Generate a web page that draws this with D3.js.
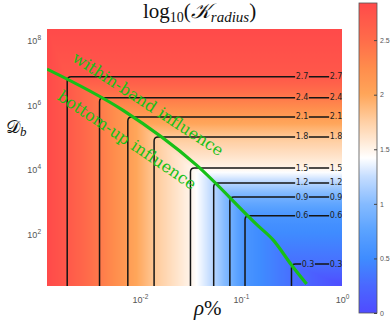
<!DOCTYPE html>
<html>
<head>
<meta charset="utf-8">
<script src="https://cdnjs.cloudflare.com/ajax/libs/d3/7.8.5/d3.min.js"></script>
<style>
  body { margin: 0; background: #fff; }
  svg { display: block; }
</style>
</head>
<body>
<div id="chart"></div>
<script>
// contour levels of log10(K_radius)
const levels = [2.7, 2.4, 2.1, 1.8, 1.5, 1.2, 0.9, 0.6, 0.3];

// log10(rho%) along the x axis and the value reached there (edges + contour crossings)
const rhoLogProfile = [-2.92, -2.72, -2.40, -2.12, -1.86, -1.50, -1.27, -1.11, -0.96, -0.50, 0];
const kAlongRho = [2.84, 2.7, 2.4, 2.1, 1.8, 1.5, 1.2, 0.9, 0.6, 0.3, 0.02];

// log10(D_b) along the y axis and the value reached there
const dbLogProfile = [0.36, 1.04, 2.53, 3.11, 3.55, 4.01, 4.97, 5.59, 6.18, 6.83, 8.31];
const kAlongDb = [0, 0.3, 0.6, 0.9, 1.2, 1.5, 1.8, 2.1, 2.4, 2.7, 2.84];

// green boundary between the two regimes, [log10 rho, log10 Db]
const boundaryLog = [[-2.92, 7.07], [-2.17, 5.80], [-1.44, 4.10], [-0.83, 2.22], [-0.68, 1.78], [-0.50, 1.01], [-0.35, 0.42]];

// tick values
const xTicks = [1e-2, 1e-1, 1];
const yTicks = [1e2, 1e4, 1e6, 1e8];
const cbTicks = [0, 0.5, 1, 1.5, 2, 2.5];

const width = 390, height = 328;
const plot = { left: 47, right: 342, top: 29, bottom: 286 };
const cb = { left: 359, right: 377, top: 3, bottom: 313 };
const green = '#17c017';

// colour map (blue -> white -> orange -> red)
const color = d3.scaleLinear()
  .domain([0, 0.25, 0.5, 0.75, 1.0, 1.25, 1.42, 1.75, 2.0, 2.25, 2.5, 2.84])
  .range(['#4f4bff', '#4a68ff', '#3f8cff', '#5aa2ff', '#85bbff', '#c5ddff', '#ffffff',
          '#ffd0a5', '#ffa65a', '#ff8c4c', '#ff6c4a', '#ff4a4a'])
  .clamp(true);

const svg = d3.select('#chart').append('svg')
  .attr('width', width)
  .attr('height', height)
  .style('font-family', '"DejaVu Sans", sans-serif');

const defs = svg.append('defs');

const x = d3.scaleLog()
  .domain([10 ** rhoLogProfile[0], 10 ** rhoLogProfile[rhoLogProfile.length - 1]])
  .range([plot.left, plot.right]);
const y = d3.scaleLog()
  .domain([10 ** dbLogProfile[0], 10 ** dbLogProfile[dbLogProfile.length - 1]])
  .range([plot.bottom, plot.top]);

const kRho = d3.scaleLinear().domain(rhoLogProfile).range(kAlongRho).clamp(true);
const kDb = d3.scaleLinear().domain(dbLogProfile).range(kAlongDb).clamp(true);
const dbAtK = d3.scaleLinear().domain(kAlongDb).range(dbLogProfile).clamp(true);
const rhoAtK = d3.scaleLinear().domain(kAlongRho.slice().reverse()).range(rhoLogProfile.slice().reverse());
const cScale = d3.scaleLinear().domain([0, kAlongDb[kAlongDb.length - 1]]).range([cb.bottom, cb.top]);

defs.append('clipPath').attr('id', 'plot-clip')
  .append('rect')
  .attr('x', plot.left).attr('y', plot.top)
  .attr('width', plot.right - plot.left).attr('height', plot.bottom - plot.top);

// vertical gradient: value set by D_b where it dominates
const nStops = 120;
const vGrad = defs.append('linearGradient').attr('id', 'db-grad')
  .attr('x1', 0).attr('y1', 0).attr('x2', 0).attr('y2', 1);
d3.range(nStops + 1).forEach((i) => {
  const py = plot.top + (plot.bottom - plot.top) * i / nStops;
  vGrad.append('stop')
    .attr('offset', i / nStops)
    .attr('stop-color', color(kDb(Math.log10(y.invert(py)))));
});

const heat = svg.append('g').attr('clip-path', 'url(#plot-clip)');
heat.append('rect')
  .attr('x', plot.left).attr('y', plot.top)
  .attr('width', plot.right - plot.left).attr('height', plot.bottom - plot.top)
  .attr('fill', 'url(#db-grad)');

// where rho dominates (below the boundary) the value only depends on rho
const cols = d3.range(plot.left, plot.right).map((px) => {
  const k = kRho(Math.log10(x.invert(px + 0.5)));
  return { px, k, yb: y(10 ** dbAtK(k)) };
});
heat.selectAll('.col')
  .data(cols)
  .enter().append('rect')
  .attr('class', 'col')
  .attr('x', (d) => d.px)
  .attr('y', (d) => d.yb)
  .attr('width', 1.05)
  .attr('height', (d) => Math.max(0, plot.bottom - d.yb))
  .attr('fill', (d) => color(d.k))
  .attr('shape-rendering', 'crispEdges');

// contour lines (L-shaped), with gaps under the labels
const contourData = levels.map((lv) => ({
  lv,
  vx: x(10 ** rhoAtK(lv)),
  hy: y(10 ** dbAtK(lv)),
}));

const labelG = svg.append('g').attr('clip-path', 'url(#plot-clip)')
  .style('font-size', '8px').attr('fill', '#222');
const labelPos = (d, j) => (j === 0 ? (d.lv === 0.3 ? 308 : 302) : 336);
const labels = [];
contourData.forEach((d) => {
  [0, 1].forEach((j) => labels.push({ d, j }));
});
const labelText = labelG.selectAll('text')
  .data(labels)
  .enter().append('text')
  .attr('x', (l) => labelPos(l.d, l.j))
  .attr('y', (l) => l.d.hy)
  .attr('text-anchor', 'middle')
  .attr('dominant-baseline', 'central')
  .text((l) => l.d.lv.toFixed(1));

const mask = defs.append('mask').attr('id', 'label-mask').attr('maskUnits', 'userSpaceOnUse')
  .attr('x', 0).attr('y', 0).attr('width', width).attr('height', height);
mask.append('rect').attr('width', width).attr('height', height).attr('fill', '#fff');
labelText.each(function() {
  const b = this.getBBox();
  mask.append('rect')
    .attr('x', b.x - 0.5).attr('y', b.y)
    .attr('width', b.width + 1).attr('height', b.height)
    .attr('fill', '#000');
});

const r = 4;
svg.insert('g', () => labelG.node())
  .attr('clip-path', 'url(#plot-clip)')
  .append('g')
  .attr('mask', 'url(#label-mask)')
  .selectAll('path')
  .data(contourData)
  .enter().append('path')
  .attr('d', (d) => `M${d.vx},${plot.bottom + 2}L${d.vx},${d.hy + r}Q${d.vx},${d.hy} ${d.vx + r},${d.hy}L${plot.right + 2},${d.hy}`)
  .attr('fill', 'none')
  .attr('stroke', '#151515')
  .attr('stroke-width', 1.5);

// green regime boundary
const line = d3.line()
  .x((d) => x(10 ** d[0]))
  .y((d) => y(10 ** d[1]))
  .curve(d3.curveMonotoneX);
svg.append('path')
  .datum(boundaryLog)
  .attr('clip-path', 'url(#plot-clip)')
  .attr('d', line)
  .attr('fill', 'none')
  .attr('stroke', green)
  .attr('stroke-width', 3.2);

const regimeLabels = [
  { text: 'within-band influence', cx: 148, cy: 104, angle: 33 },
  { text: 'bottom-up influence', cx: 127, cy: 140, angle: 34 },
];
svg.selectAll('.regime')
  .data(regimeLabels)
  .enter().append('text')
  .attr('class', 'regime')
  .attr('transform', (d) => `translate(${d.cx},${d.cy}) rotate(${d.angle})`)
  .attr('text-anchor', 'middle')
  .attr('dominant-baseline', 'central')
  .style('font-family', '"DejaVu Serif", serif')
  .style('font-size', '16px')
  .attr('fill', green)
  .text((d) => d.text);

// axes
function powerLabel(sel, fmt) {
  sel.each(function(d) {
    const t = d3.select(this);
    t.text('');
    t.append('tspan').text('10');
    t.append('tspan').attr('dy', -4).style('font-size', '6.5px').text(fmt(d));
  });
}
const expOf = (d) => String(Math.round(Math.log10(d)));

const xAxis = svg.append('g')
  .attr('transform', `translate(0,${plot.bottom})`)
  .call(d3.axisBottom(x).tickValues(xTicks).tickSize(0).tickPadding(11));
xAxis.select('.domain').remove();
xAxis.selectAll('text').style('font-size', '9px').attr('fill', '#555')
  .call(powerLabel, expOf);

const yAxis = svg.append('g')
  .attr('transform', `translate(${plot.left},0)`)
  .call(d3.axisLeft(y).tickValues(yTicks).tickSize(0).tickPadding(6));
yAxis.select('.domain').remove();
yAxis.selectAll('text').style('font-size', '9px').attr('fill', '#555')
  .attr('dy', '0.5em')
  .call(powerLabel, expOf);

// colorbar
const cGrad = defs.append('linearGradient').attr('id', 'cb-grad')
  .attr('x1', 0).attr('y1', 1).attr('x2', 0).attr('y2', 0);
d3.range(nStops + 1).forEach((i) => {
  cGrad.append('stop')
    .attr('offset', i / nStops)
    .attr('stop-color', color(cScale.domain()[1] * i / nStops));
});
svg.append('rect')
  .attr('x', cb.left).attr('y', cb.top)
  .attr('width', cb.right - cb.left).attr('height', cb.bottom - cb.top)
  .attr('fill', 'url(#cb-grad)')
  .attr('stroke', '#555')
  .attr('stroke-width', 0.8);
const cAxis = svg.append('g')
  .attr('transform', `translate(${cb.right},0)`)
  .call(d3.axisRight(cScale).tickValues(cbTicks).tickSizeInner(-3).tickSizeOuter(0)
    .tickPadding(3).tickFormat(d3.format('~g')));
cAxis.select('.domain').remove();
cAxis.selectAll('line').attr('stroke', '#444');
cAxis.selectAll('text').style('font-size', '7px').attr('fill', '#555');

// title and axis labels
const serif = '"Liberation Serif", "DejaVu Serif", serif';
const title = svg.append('text')
  .attr('x', 143).attr('y', 18)
  .style('font-family', serif).style('font-size', '21px').attr('fill', '#111');
title.append('tspan').text('log');
title.append('tspan').attr('dy', 4).style('font-size', '14px').text('10');
title.append('tspan').attr('dy', -4).text('(');
title.append('tspan').style('font-style', 'italic').text('\u{1D4A6}');
title.append('tspan').attr('dy', 4).style('font-size', '15px').style('font-style', 'italic').text('radius');
title.append('tspan').attr('dy', -4).text(')');

const yLabel = svg.append('text')
  .attr('x', 6).attr('y', 133)
  .style('font-family', serif).style('font-size', '18px').attr('fill', '#111');
yLabel.append('tspan').text('\u{1D49F}');
yLabel.append('tspan').attr('dy', 3).style('font-size', '13px').style('font-style', 'italic').text('b');

const xLabel = svg.append('text')
  .attr('x', 194).attr('y', 315)
  .style('font-family', serif).style('font-size', '21px').attr('fill', '#111');
xLabel.append('tspan').style('font-style', 'italic').text('\u03C1');
xLabel.append('tspan').text('%');
</script>
</body>
</html>
